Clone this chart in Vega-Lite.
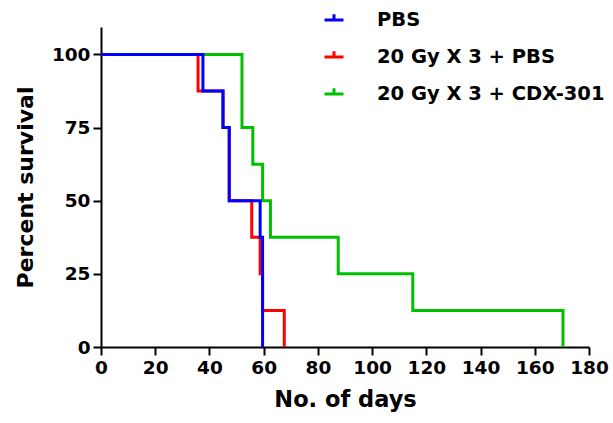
{
  "$schema": "https://vega.github.io/schema/vega-lite/v6.json",
  "width": 488,
  "height": 320,
  "autosize": "none",
  "padding": {"left": 101, "top": 27, "right": 24, "bottom": 76},
  "background": "white",
  "config": {
    "view": {"stroke": null},
    "axis": {
      "grid": false,
      "domainColor": "black",
      "domainWidth": 2,
      "tickColor": "black",
      "tickWidth": 2,
      "tickSize": 8,
      "labelColor": "black",
      "labelFont": "DejaVu Sans",
      "labelFontWeight": "bold",
      "labelFontSize": 18.5,
      "titleFont": "DejaVu Sans",
      "titleFontWeight": "bold",
      "titleColor": "black"
    },
    "legend": {
      "labelFont": "DejaVu Sans",
      "labelFontWeight": "bold",
      "labelFontSize": 19.5,
      "labelColor": "black",
      "labelLimit": 400
    }
  },
  "data": {
    "values": [
      {"group": "20 Gy X 3 +  CDX-301", "day": 0, "pct": 100},
      {"group": "20 Gy X 3 +  CDX-301", "day": 52, "pct": 75},
      {"group": "20 Gy X 3 +  CDX-301", "day": 56, "pct": 62.5},
      {"group": "20 Gy X 3 +  CDX-301", "day": 59.6, "pct": 50},
      {"group": "20 Gy X 3 +  CDX-301", "day": 62.5, "pct": 37.5},
      {"group": "20 Gy X 3 +  CDX-301", "day": 87.5, "pct": 25},
      {"group": "20 Gy X 3 +  CDX-301", "day": 115, "pct": 12.5},
      {"group": "20 Gy X 3 +  CDX-301", "day": 170.4, "pct": 0},
      {"group": "20 Gy X 3 + PBS", "day": 0, "pct": 100},
      {"group": "20 Gy X 3 + PBS", "day": 35.8, "pct": 87.5},
      {"group": "20 Gy X 3 + PBS", "day": 45, "pct": 75},
      {"group": "20 Gy X 3 + PBS", "day": 47.3, "pct": 50},
      {"group": "20 Gy X 3 + PBS", "day": 55.6, "pct": 37.5},
      {"group": "20 Gy X 3 + PBS", "day": 58.7, "pct": 25},
      {"group": "20 Gy X 3 + PBS", "day": 59.6, "pct": 12.5},
      {"group": "20 Gy X 3 + PBS", "day": 67.6, "pct": 0},
      {"group": "PBS", "day": 0, "pct": 100},
      {"group": "PBS", "day": 37.6, "pct": 87.5},
      {"group": "PBS", "day": 45, "pct": 75},
      {"group": "PBS", "day": 47.3, "pct": 50},
      {"group": "PBS", "day": 58.7, "pct": 37.5},
      {"group": "PBS", "day": 59.6, "pct": 0}
    ]
  },
  "mark": {"type": "line", "interpolate": "step-after", "strokeWidth": 3},
  "encoding": {
    "x": {
      "field": "day",
      "type": "quantitative",
      "scale": {"domain": [0, 180], "nice": false, "zero": true},
      "axis": {
        "values": [0, 20, 40, 60, 80, 100, 120, 140, 160, 180],
        "title": "No. of days",
        "titleFontSize": 22.5,
        "titlePadding": 12,
        "labelPadding": 3,
        "labelFlush": false
      }
    },
    "y": {
      "field": "pct",
      "type": "quantitative",
      "scale": {"domain": [0, 109.4], "nice": false},
      "axis": {
        "values": [0, 25, 50, 75, 100],
        "title": "Percent survival",
        "titleFontSize": 22,
        "titlePadding": 14,
        "labelPadding": 3,
        "labelFlush": false
      }
    },
    "color": {
      "field": "group",
      "type": "nominal",
      "scale": {
        "domain": ["PBS", "20 Gy X 3 + PBS", "20 Gy X 3 +  CDX-301"],
        "range": ["#0000ff", "#ff0000", "#00c000"]
      },
      "legend": {
        "title": null,
        "orient": "none",
        "legendX": 222,
        "legendY": -18,
        "symbolType": "M-1,0L1,0M0,0L0,-0.6",
        "symbolSize": 361,
        "symbolStrokeWidth": 3,
        "labelOffset": 32,
        "rowPadding": 15
      }
    },
    "detail": {"field": "group"}
  }
}
